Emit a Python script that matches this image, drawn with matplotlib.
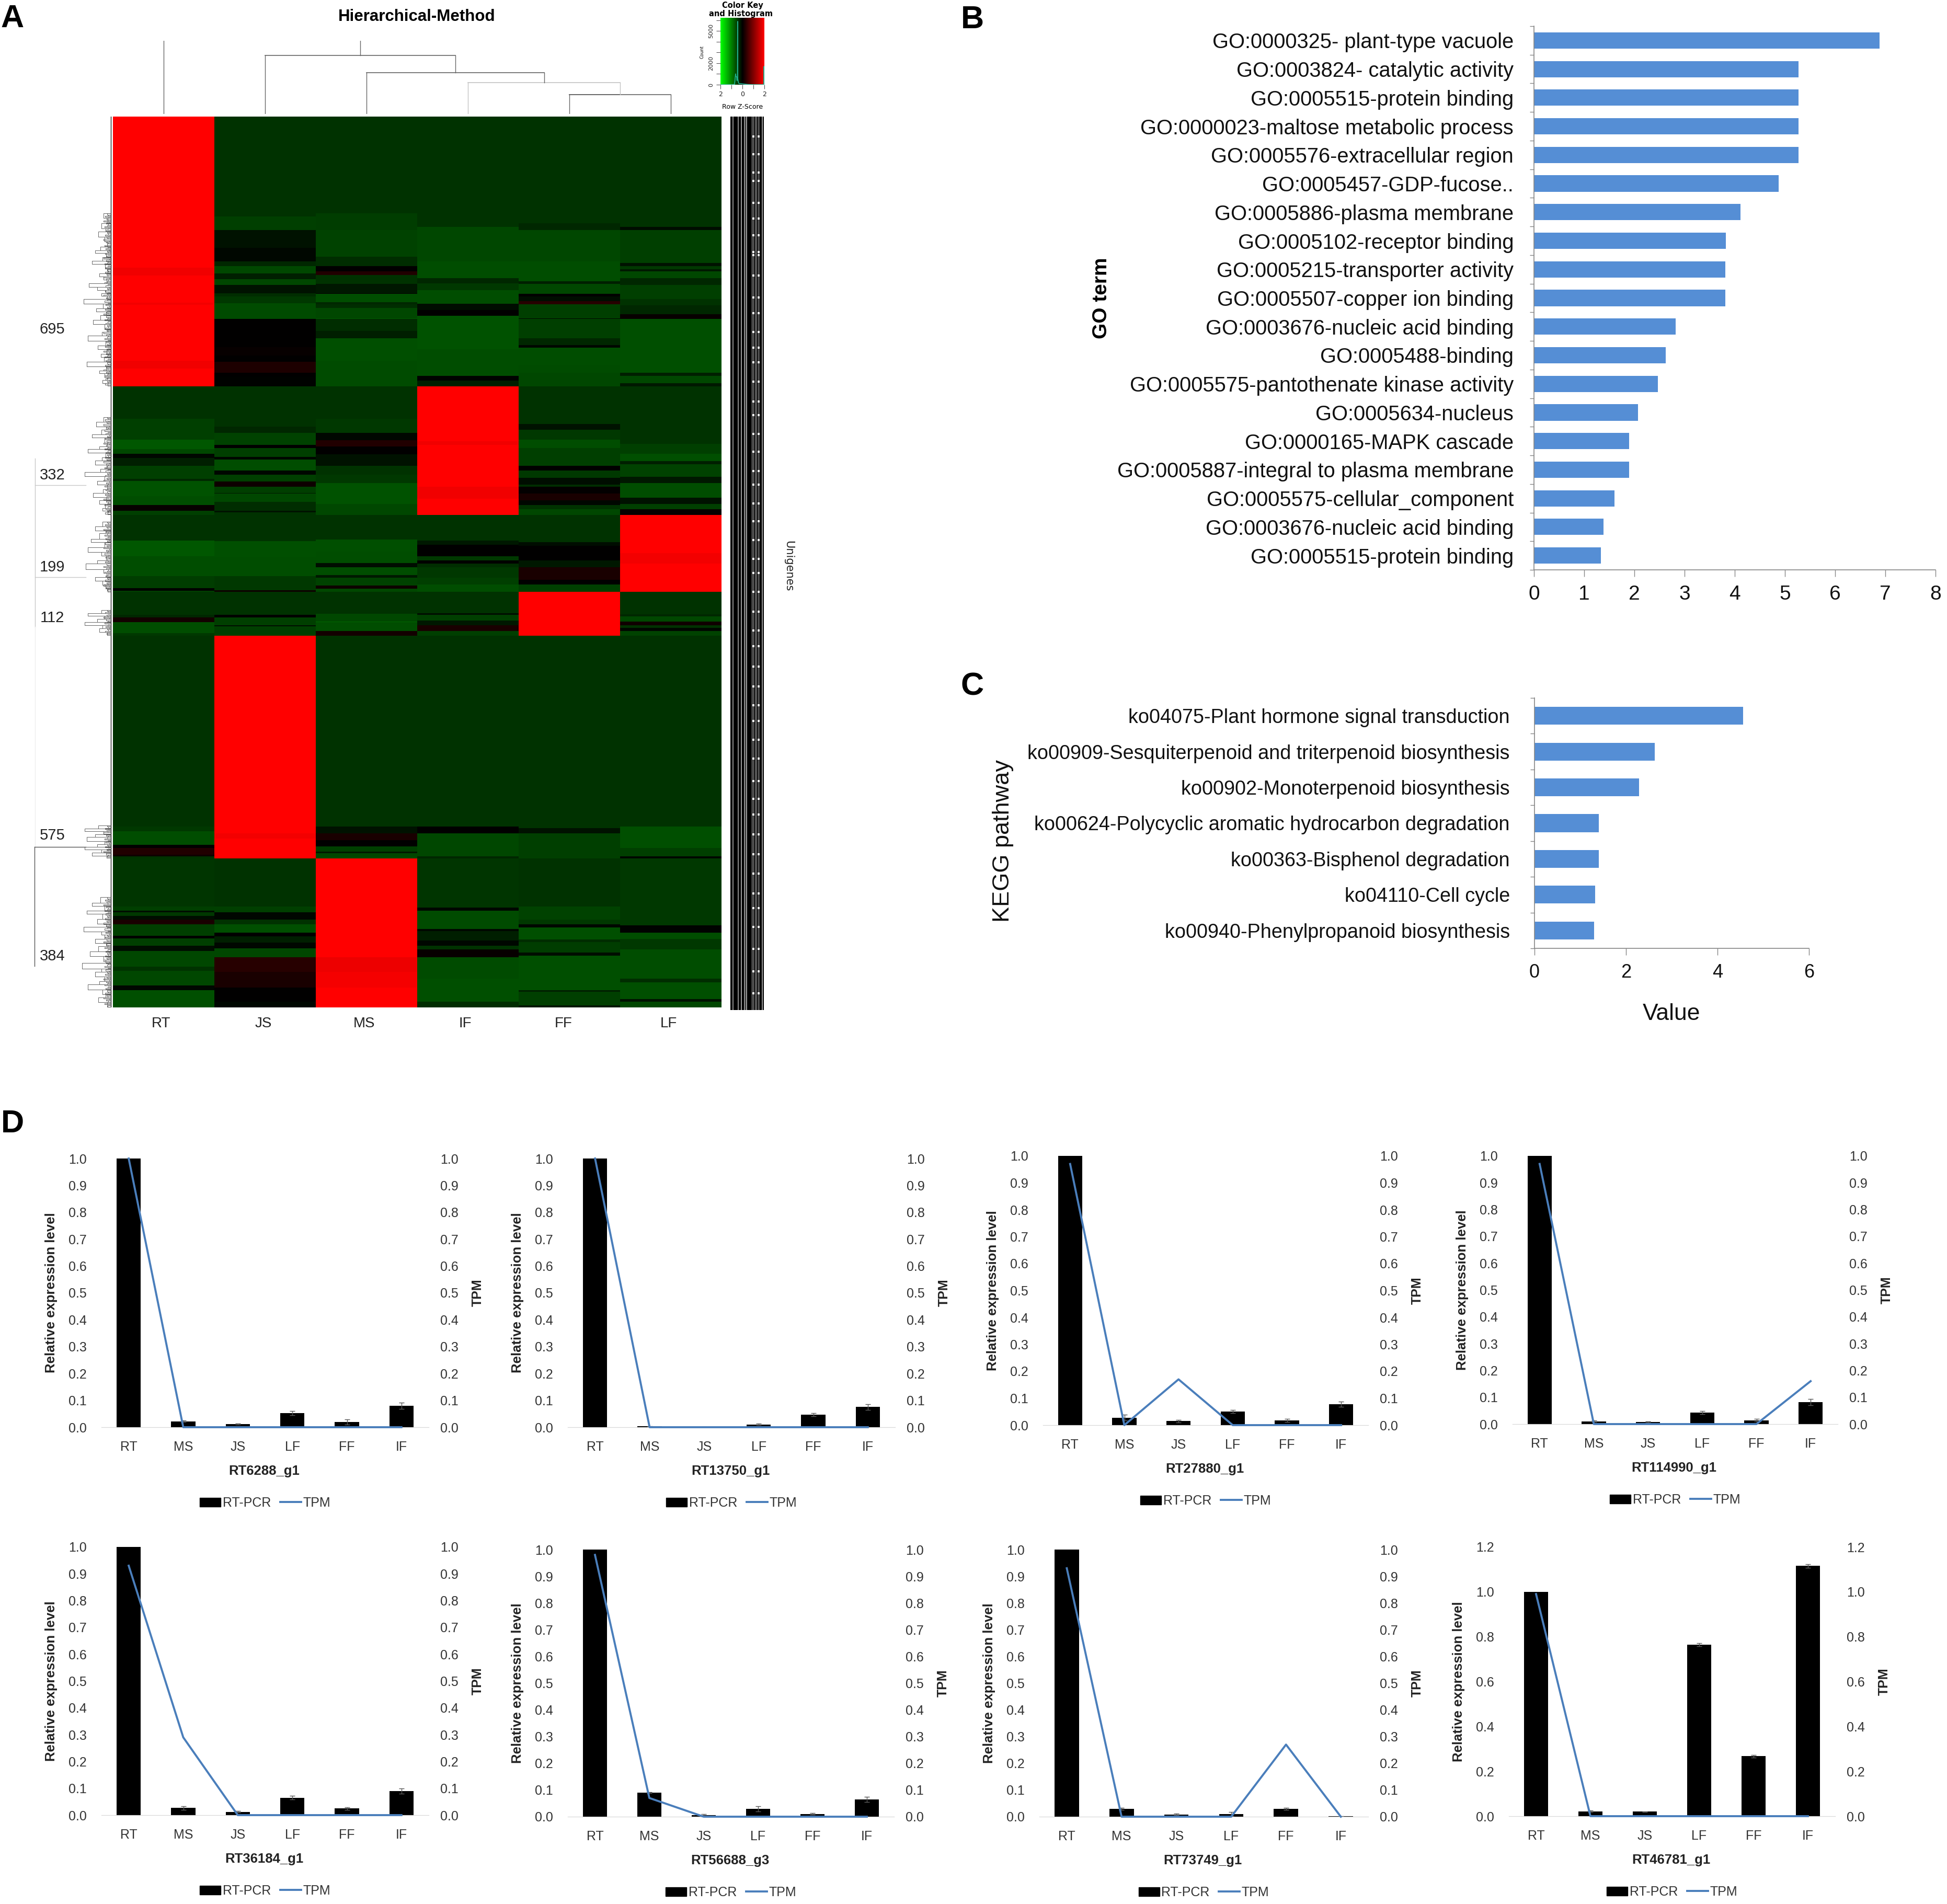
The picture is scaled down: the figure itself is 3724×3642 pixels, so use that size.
import numpy as np
import matplotlib
matplotlib.use('Agg')
import matplotlib.pyplot as plt
from matplotlib.colors import LinearSegmentedColormap
from matplotlib.lines import Line2D
from matplotlib.patches import Patch

plt.rcParams['font.family'] = ['Liberation Sans', 'DejaVu Sans']

W, H = 3724, 3642

# ---- panel A data: rows per cluster, bands are (last row, z-score)
heat_cols = ['RT', 'JS', 'MS', 'IF', 'FF', 'LF']
cluster_sizes = [695, 332, 199, 112, 575, 384]
cluster_labels = ['695', '332', '199', '112', '575', '384']

c1_bands = [
    [(390, 2), (410, 1.88), (480, 2), (485, 1.9), (630, 2), (650, 1.88), (695, 2)],
    [(258, -.4), (292, -.5), (339, -.15), (374, -.05), (385, -.3), (405, -.55), (419, -.25), (434, -.55), (455, -.15),
     (464, -.35), (481, -.45), (522, -.58), (594, 0), (616, .06), (632, 0), (661, .22), (670, 0), (695, -.03)],
    [(249, -.4), (292, -.47), (361, -.52), (385, -.35), (399, 0), (409, .25), (432, -.4), (455, -.18), (457, 0),
     (479, -.6), (484, -.3), (493, -.35), (520, -.55), (522, -.7), (553, -.35), (571, -.25), (630, -.62), (695, -.58)],
    [(284, -.4), (374, -.55), (416, -.6), (430, -.3), (448, -.45), (482, -.6), (499, -.1), (513, 0), (600, -.65),
     (668, -.6), (681, -.03), (695, -.25)],
    [(275, -.4), (292, -.3), (374, -.55), (425, -.6), (432, -.25), (457, -.55), (464, 0), (476, -.1), (484, .3),
     (520, -.5), (522, -.05), (571, -.5), (589, -.3), (596, -.05), (640, -.6), (660, -.58), (695, -.55)],
    [(284, -.4), (292, -.1), (378, -.5), (385, -.15), (394, -.45), (399, -.2), (416, -.55), (434, -.3), (470, -.5),
     (486, -.4), (509, -.3), (522, .05), (661, -.62), (668, -.25), (688, -.55), (695, -.2)],
]
c2_bands = [
    [(84, -.4), (138, -.5), (162, -.68), (174, -.55), (185, -.05), (205, -.25), (239, -.5), (245, -.3), (284, -.65),
     (306, -.6), (321, .05), (332, -.5)],
    [(104, -.4), (120, -.3), (152, -.52), (159, 0), (183, -.5), (189, -.05), (218, -.6), (228, -.05), (246, -.5),
     (260, .1), (275, -.5), (277, -.2), (299, -.55), (322, -.35), (326, -.15), (332, -.4)],
    [(84, -.4), (120, -.45), (140, -.05), (155, .25), (176, 0), (205, -.15), (228, -.4), (250, -.45), (304, -.65),
     (332, -.55)],
    [(142, 2), (151, 1.88), (259, 2), (290, 1.88), (332, 2)],
    [(97, -.4), (113, -.15), (138, -.45), (160, -.6), (205, -.5), (218, 0), (236, -.45), (254, -.1), (259, -.35),
     (277, .02), (295, .2), (306, -.05), (317, -.4), (332, -.55)],
    [(149, -.4), (174, -.5), (194, -.62), (201, -.25), (234, -.52), (250, -.2), (288, -.6), (304, -.15), (317, -.5),
     (332, .05)],
]
c3_bands = [
    [(66, -.4), (106, -.68), (158, -.6), (189, -.48), (195, 0), (199, -.5)],
    [(68, -.4), (108, -.62), (158, -.6), (194, -.45), (199, .1)],
    [(63, -.4), (95, -.62), (124, -.6), (135, -.1), (155, -.6), (162, -.2), (182, -.52), (190, .1), (199, -.55)],
    [(66, -.4), (77, -.2), (106, 0), (117, -.45), (125, 0), (135, -.35), (162, -.45), (180, -.5), (199, -.6)],
    [(70, -.4), (80, -.1), (117, 0), (135, -.2), (167, .2), (180, 0), (199, -.5)],
    [(99, 2), (126, 1.9), (199, 2)],
]
c4_bands = [
    [(58, -.4), (66, -.3), (77, .15), (106, -.6), (112, -.45)],
    [(58, -.4), (66, 0), (85, -.5), (88, -.1), (110, -.5), (112, -.5)],
    [(56, -.4), (76, -.55), (78, -.8), (101, -.6), (112, .15)],
    [(54, -.4), (58, -.1), (74, -.5), (86, -.2), (101, .2), (112, -.5)],
    [(112, 2)],
    [(57, -.4), (63, -.3), (76, -.55), (86, .12), (93, -.4), (100, -.05), (112, -.52)],
]
c5_bands = [
    [(493, -.4), (505, -.45), (540, -.6), (548, 0), (565, .25), (570, .1), (575, -.4)],
    [(510, 2), (523, 1.9), (575, 2)],
    [(493, -.4), (510, -.15), (527, .2), (544, 0), (557, -.5), (561, -.2), (575, -.55)],
    [(493, -.4), (510, 0), (570, -.55), (575, -.3)],
    [(497, -.4), (510, -.15), (575, -.5)],
    [(493, -.4), (548, -.62), (570, -.5), (575, -.05)],
]
c6_bands = [
    [(124, -.42), (135, -.5), (139, -.1), (148, -.45), (158, -.1), (170, .2), (199, -.5), (206, 0), (225, -.5),
     (238, -.1), (279, -.55), (290, -.4), (328, -.55), (339, -.05), (384, -.62)],
    [(124, -.4), (139, -.5), (158, -.05), (169, -.4), (191, -.62), (201, 0), (217, -.25), (232, -.05), (254, -.55),
     (292, .3), (333, .2), (369, 0), (384, -.05)],
    [(254, 2), (292, 1.85), (333, 1.92), (384, 2)],
    [(126, -.42), (135, -.05), (182, -.58), (187, -.05), (211, -.25), (225, -.05), (234, -.4), (254, .05), (310, -.58),
     (369, -.62), (384, -.35)],
    [(124, -.4), (157, -.52), (169, -.45), (178, -.05), (209, -.62), (216, -.35), (243, -.48), (250, -.1), (339, -.62),
     (344, -.25), (378, -.5), (384, -.2)],
    [(173, -.45), (191, -.03), (207, -.6), (234, -.45), (310, -.6), (319, -.35), (362, -.62), (369, -.15), (384, -.55)],
]
all_bands = [c1_bands, c2_bands, c3_bands, c4_bands, c5_bands, c6_bands]

# column dendrogram: merge heights above the heatmap
col_merge_heights = [37, 60, 79, 112]
col_tree_top = 140

# row dendrogram (stair outline per cluster): row and depth from the heatmap edge
den_rows = [
    [250, 262, 275, 288, 296, 310, 322, 335, 345, 352, 362, 372, 380, 392, 405, 412, 420, 430, 440, 448, 455, 462, 470,
     482, 495, 503, 512, 525, 535, 548, 556, 565, 578, 590, 600, 612, 620, 632, 645, 655, 662, 672, 680, 688, 694],
    [80, 92, 104, 112, 125, 133, 146, 155, 163, 172, 184, 192, 203, 214, 222, 233, 245, 254, 266, 275, 286, 295, 304,
     314, 322, 331],
    [18, 30, 40, 48, 62, 70, 84, 96, 105, 118, 126, 140, 150, 161, 170, 181, 190, 198],
    [46, 54, 62, 70, 78, 86, 94, 103, 111],
    [490, 498, 505, 513, 520, 530, 538, 545, 552, 560, 568, 574],
    [100, 114, 122, 135, 143, 156, 168, 176, 188, 196, 208, 218, 226, 240, 252, 262, 270, 284, 292, 305, 316, 325, 338,
     350, 358, 370, 383],
]
den_depth = [
    [8, 14, 6, 18, 10, 24, 12, 7, 20, 30, 9, 16, 36, 11, 6, 22, 14, 8, 42, 26, 10, 18, 7, 52, 15, 28, 9, 20, 34, 12, 6,
     17, 44, 10, 25, 8, 19, 13, 46, 9, 22, 12, 7, 16, 6],
    [6, 14, 28, 9, 18, 36, 12, 7, 22, 44, 10, 17, 30, 8, 20, 50, 12, 26, 7, 15, 34, 9, 22, 11, 16, 6],
    [8, 16, 30, 10, 22, 38, 12, 44, 18, 9, 26, 48, 14, 8, 30, 16, 10, 6],
    [8, 18, 44, 12, 26, 50, 16, 22, 7],
    [10, 24, 50, 14, 30, 46, 12, 26, 50, 18, 36, 8],
    [8, 20, 36, 12, 46, 16, 26, 9, 52, 18, 12, 30, 8, 24, 40, 14, 10, 55, 18, 30, 12, 22, 44, 16, 10, 24, 7],
]
# leaves: one short line per few genes, these depths repeat down the cluster
leaf_depth = [3, 7, 5, 11, 4, 8, 6, 14, 3, 9, 5, 7, 12, 4, 6, 10]
# long links left of the row dendrogram: depth, first row, last row, colour
outer_links = [(150, 1883, 2191, '#555555'), (149, 882, 1315, '#c8c8c8'), (149, 1315, 1883, '#eeeeee')]
outer_branches = [(1883, 150, 52, '#555555'), (951, 149, 52, '#c8c8c8'), (1187, 149, 52, '#c8c8c8')]

# overprinted gene labels at the right of the heatmap, ink per 2 px strip
label_ink = [1, 1, .45, 1, 1, 1, 1, .45, 1, 1, .4, 1, 1, .45, .8, .4, 1, 1, 1, 1, .75, .7, .7, 1, .4, 1, .7, .7, 1, 1, .4, 1]
# rows (of 850) where the grey strips show a white gap
ink_gap_rows = [18, 35, 52, 60, 81, 96, 112, 128, 131, 150, 171, 186, 204, 219, 233, 251, 270, 283, 301, 318, 336, 349,
                367, 384, 402, 420, 433, 451, 470, 488, 503, 522, 541, 559, 574, 592, 610, 631, 648, 663, 682, 701,
                719, 738, 752, 770, 791, 812, 833]
ink_gap_cols = [21, 22, 26, 27]

# colour key histogram
hist_z = [-2, -.95, -.72, -.62, -.62, -.52, -.5, -.45, -.43, -.43, -.38, -.35, -.3, -.1, .5, 1.0, 1.93, 1.95, 1.95, 2]
hist_count = [0, 0, 30, 1000, 850, 700, 400, 400, 5900, 600, 300, 150, 100, 90, 20, 0, 0, 150, 1700, 0]

# ---- panel B
go_terms = ['GO:0000325- plant-type vacuole', 'GO:0003824- catalytic activity', 'GO:0005515-protein binding',
            'GO:0000023-maltose metabolic process', 'GO:0005576-extracellular region', 'GO:0005457-GDP-fucose..',
            'GO:0005886-plasma membrane', 'GO:0005102-receptor binding', 'GO:0005215-transporter activity',
            'GO:0005507-copper ion binding', 'GO:0003676-nucleic acid binding', 'GO:0005488-binding',
            'GO:0005575-pantothenate kinase activity', 'GO:0005634-nucleus', 'GO:0000165-MAPK cascade',
            'GO:0005887-integral to plasma membrane', 'GO:0005575-cellular_component',
            'GO:0003676-nucleic acid binding', 'GO:0005515-protein binding']
go_values = [6.89, 5.27, 5.27, 5.27, 5.27, 4.87, 4.11, 3.82, 3.81, 3.81, 2.82, 2.63, 2.47, 2.07, 1.9, 1.9, 1.6, 1.39, 1.33]

# ---- panel C
kegg_terms = ['ko04075-Plant hormone signal transduction', 'ko00909-Sesquiterpenoid and triterpenoid biosynthesis',
              'ko00902-Monoterpenoid biosynthesis', 'ko00624-Polycyclic aromatic hydrocarbon degradation',
              'ko00363-Bisphenol degradation', 'ko04110-Cell cycle', 'ko00940-Phenylpropanoid biosynthesis']
kegg_values = [4.56, 2.63, 2.28, 1.41, 1.41, 1.33, 1.3]

# ---- panel D
tissues = ['RT', 'MS', 'JS', 'LF', 'FF', 'IF']
gene_names = ['RT6288_g1', 'RT13750_g1', 'RT27880_g1', 'RT114990_g1', 'RT36184_g1', 'RT56688_g3', 'RT73749_g1', 'RT46781_g1']
pcr_values = [
    [1, .022, .012, .052, .02, .08],
    [1, .003, .001, .01, .047, .075],
    [1, .028, .015, .05, .018, .078],
    [1, .01, .008, .043, .014, .082],
    [1, .027, .012, .065, .025, .09],
    [1, .09, .005, .03, .01, .065],
    [1, .03, .008, .01, .03, .001],
    [1, .022, .02, .765, .267, 1.115],
]
pcr_errors = [
    [0, .003, .002, .008, .01, .012],
    [0, .001, .001, .003, .006, .01],
    [0, .01, .005, .006, .006, .01],
    [0, .003, .002, .005, .005, .012],
    [0, .007, .003, .007, .005, .01],
    [0, .002, .004, .01, .003, .01],
    [0, .004, .003, .008, .004, .001],
    [0, .004, .002, .007, .006, .008],
]
tpm_values = [
    [1.0, 0, 0, 0, 0, 0],
    [1.0, 0, 0, 0, 0, 0],
    [.97, 0, .17, 0, 0, 0],
    [.97, 0, 0, 0, 0, .16],
    [.93, .29, 0, 0, 0, 0],
    [.98, .07, 0, 0, 0, 0],
    [.93, 0, 0, 0, .27, 0],
    [.99, 0, 0, 0, 0, 0],
]
chart_boxes = [(194, 820, 2216, 2730), (1086, 1712, 2216, 2730), (1995, 2617, 2211, 2726), (2893, 3515, 2211, 2724),
               (194, 820, 2959, 3472), (1086, 1710, 2964, 3475), (1988, 2617, 2964, 3475), (2886, 3510, 2959, 3474)]

fig = plt.figure(figsize=(W / 100, H / 100), dpi=100)


def px_axes(x0, x1, y0, y1):
    # axes from picture pixels, y counted from the top
    return fig.add_axes([x0 / W, 1 - y1 / H, (x1 - x0) / W, (y1 - y0) / H])


def px_text(x, y, s, **kw):
    kw.setdefault('ha', 'center')
    kw.setdefault('va', 'center')
    return fig.text(x / W, 1 - y / H, s, **kw)


# panel letters
for letter, lx, ly in [('A', 24, 36), ('B', 1860, 38), ('C', 1860, 1314), ('D', 24, 2150)]:
    px_text(lx, ly, letter, fontsize=44, fontweight='bold')

# heatmap
green_black_red = LinearSegmentedColormap.from_list('gbr', ['#00ff00', '#000000', '#ff0000'])
blocks = []
for bands, n in zip(all_bands, cluster_sizes):
    block = np.zeros((n, 6))
    for j, col_bands in enumerate(bands):
        start = 0
        for end, z in col_bands:
            block[start:end, j] = z
            start = end
    blocks.append(block)
heat = np.vstack(blocks)
total_rows = heat.shape[0]

ax_heat = px_axes(216, 1380, 223, 1927)
ax_heat.imshow(heat, aspect='auto', cmap=green_black_red, vmin=-2, vmax=2, interpolation='nearest')
ax_heat.axis('off')

for name, cx in zip(heat_cols, [308, 504, 696, 890, 1078, 1279]):
    px_text(cx, 1958, name, fontsize=20, color='#222222')

px_text(797, 32, 'Hierarchical-Method', fontsize=22.5, fontweight='bold')

# column dendrogram
ax_top = px_axes(216, 1380, 78, 218)
ax_top.set_xlim(0, 6)
ax_top.set_ylim(0, col_tree_top)
ax_top.axis('off')
den_grey = '#666666'
ax_top.plot([.5, .5], [0, col_tree_top], color=den_grey, lw=1)
nx = 5.0
for k, left_leaf in enumerate([4.5, 3.5, 2.5, 1.5]):
    h = col_merge_heights[k]
    lower = col_merge_heights[k - 1] if k else 0
    c = '#c4c4c4' if k == 1 else den_grey
    ax_top.plot([left_leaf, left_leaf], [0, h], color=c, lw=1)
    ax_top.plot([left_leaf, nx], [h, h], color=c, lw=1.2)
    if k:
        ax_top.plot([nx, nx], [lower, h], color=c, lw=1)
    else:
        ax_top.plot([5.5, 5.5], [0, h], color=c, lw=1)
        nx = 5.5
        ax_top.plot([left_leaf, nx], [h, h], color=c, lw=1.2)
    nx = (left_leaf + nx) / 2
ax_top.plot([nx, nx], [col_merge_heights[-1], col_tree_top], color=den_grey, lw=1)

# row dendrogram
ax_den = px_axes(50, 216, 223, 1927)
ax_den.set_xlim(166, 0)
ax_den.set_ylim(total_rows, 0)
ax_den.axis('off')
ax_den.plot([4, 4], [0, total_rows], color='#222222', lw=1)
offset = 0
for rows, depth, n in zip(den_rows, den_depth, cluster_sizes):
    r = np.array(rows) + offset
    d = np.array(depth) + 4
    ax_den.hlines(r, 4, d, color='#666666', lw=.7)
    ax_den.step(d, r, where='post', color='#666666', lw=.7)
    # short leaves packed against the heatmap
    leaf_rows = np.arange(rows[0], rows[-1], 3) + offset
    leaf_d = np.resize(leaf_depth, len(leaf_rows)) + 4
    ax_den.hlines(leaf_rows, 4, leaf_d, color='#555555', lw=.7)
    ax_den.step(leaf_d, leaf_rows, where='post', color='#555555', lw=.6)
    offset += n
for depth, r0, r1, c in outer_links:
    ax_den.plot([depth, depth], [r0, r1], color=c, lw=1)
for row, d0, d1, c in outer_branches:
    ax_den.plot([d0, d1], [row, row], color=c, lw=1)

for label, ly in zip(cluster_labels, [630, 909, 1085, 1182, 1598, 1829]):
    px_text(100, ly, label, fontsize=21, color='#222222')

# gene label strip
ink = np.tile(label_ink, (850, 1))
for g in ink_gap_rows:
    ink[g:g + 2, ink_gap_cols] = 0
ax_ink = px_axes(1397, 1461, 223, 1932)
ax_ink.imshow(ink, aspect='auto', cmap='gray_r', vmin=0, vmax=1, interpolation='nearest')
ax_ink.axis('off')
px_text(1508, 1083, 'Unigenes', fontsize=15, rotation=270, color='#222222', family='DejaVu Sans')

# colour key
ax_key = px_axes(1378, 1462, 34, 162)
ax_key.imshow(np.linspace(-2, 2, 200).reshape(1, -1), aspect='auto', cmap=green_black_red, vmin=-2, vmax=2,
              extent=[-2, 2, 0, 6240])
ax_key.plot(hist_z, hist_count, color='#1fae8c', lw=1.3)
ax_key.set_xlim(-2, 2)
ax_key.set_ylim(0, 6240)
ax_key.set_xticks([-2, -1, 0, 1, 2], ['2', '', '0', '', '2'], fontsize=9, family='DejaVu Sans')
ax_key.set_yticks([0, 1000, 2000, 3000, 4000, 5000, 6000], ['0', '', '2000', '', '', '5000', ''],
                  fontsize=8, rotation=90, va='center', family='DejaVu Sans')
ax_key.tick_params(length=5.5, width=.7, color='#444444', labelcolor='#222222')
for s in ax_key.spines.values():
    s.set_visible(False)
px_text(1420, 11, 'Color Key', fontsize=10.5, fontweight='bold', family='DejaVu Sans')
px_text(1417, 27, 'and Histogram', fontsize=10.5, fontweight='bold', family='DejaVu Sans', zorder=-1)
px_text(1343, 100, 'Count', fontsize=6, rotation=90, family='DejaVu Sans')
px_text(1420, 204, 'Row Z-Score', fontsize=9, family='DejaVu Sans')


def hbar_panel(box, labels, values, xmax, xticks, bar_h, label_size, label_pad, tick_size):
    ax = px_axes(*box)
    y = np.arange(len(values))
    ax.barh(y, values, height=bar_h, color='#558ED5')
    ax.set_xlim(0, xmax)
    ax.set_ylim(len(values) - .5, -.5)
    ax.set_yticks(y, labels, fontsize=label_size, color='#111111')
    ax.set_yticks(np.arange(len(values) + 1) - .5, minor=True)
    ax.tick_params(axis='y', which='major', length=0, pad=label_pad)
    ax.tick_params(axis='y', which='minor', length=6, width=1, color='#868686')
    ax.set_xticks(xticks, [str(t) for t in xticks], fontsize=tick_size, color='#111111')
    ax.tick_params(axis='x', length=9, width=1, color='#868686', pad=12)
    ax.spines[['top', 'right']].set_visible(False)
    ax.spines[['left', 'bottom']].set_color('#868686')
    ax.spines[['left', 'bottom']].set_linewidth(1.2)
    return ax


hbar_panel((2934, 3702, 50, 1090), go_terms, go_values, 8, list(range(9)), .57, 28.7, 28, 28)
px_text(2107, 570, 'GO term', fontsize=28, fontweight='bold', rotation=90)

hbar_panel((2935, 3460, 1335, 1814), kegg_terms, kegg_values, 6, [0, 2, 4, 6], .5, 27.2, 34, 26)
px_text(1919, 1608, 'KEGG pathway', fontsize=32.5, rotation=90, color='#111111')
px_text(3197, 1940, 'Value', fontsize=32, color='#111111')

# small expression charts
tick_grey = '#333333'
for i, box in enumerate(chart_boxes):
    x0, x1, y0, y1 = box
    ax = px_axes(*box)
    ymax = 1.2 if i == 7 else 1.0
    yticks = np.round(np.arange(0, ymax + .001, .2 if i == 7 else .1), 1)
    x = np.arange(6)
    ax.bar(x, pcr_values[i], width=.445, color='black')
    ax.errorbar(x[1:], pcr_values[i][1:], yerr=pcr_errors[i][1:], fmt='none', ecolor='#595959',
                elinewidth=1, capsize=3.5, capthick=1)
    ax.set_xlim(-.5, 5.5)
    ax.set_ylim(0, ymax)
    ax.set_xticks(x, tissues, fontsize=18, color=tick_grey)
    ax.set_yticks(yticks, [f'{t:.1f}' for t in yticks], fontsize=18, color=tick_grey)
    ax.tick_params(axis='x', length=0, pad=19)
    ax.tick_params(axis='y', length=0, pad=20)
    ax.spines[['top', 'left', 'right']].set_visible(False)
    ax.spines['bottom'].set_color('#d9d9d9')

    ax2 = ax.twinx()
    ax2.plot(x, tpm_values[i], color='#4A7EBB', lw=2.8, clip_on=False, zorder=5)
    ax2.set_ylim(0, ymax)
    ax2.set_yticks(yticks, [f'{t:.1f}' for t in yticks], fontsize=18, color=tick_grey)
    ax2.tick_params(axis='y', length=0, pad=16)
    ax2.spines[['top', 'left', 'right']].set_visible(False)
    ax2.spines['bottom'].set_color('#d9d9d9')

    cx = (x0 + x1) / 2
    cy = (y0 + y1) / 2
    px_text(x0 - 96, cy, 'Relative expression level', fontsize=18.5, fontweight='bold', rotation=90, color='#222222')
    px_text(x1 + 94, cy, 'TPM', fontsize=18, fontweight='bold', rotation=90, color='#222222')
    px_text(cx - 2, y1 + 84, gene_names[i], fontsize=18.5, fontweight='bold', color='#222222')
    fig.legend(handles=[Patch(color='black', label='RT-PCR'), Line2D([], [], color='#4A7EBB', lw=2.8, label='TPM')],
               loc='center', bbox_to_anchor=(cx / W, 1 - (y1 + 145) / H), ncol=2, frameon=False, fontsize=18,
               handlelength=1.6, handletextpad=.15, columnspacing=.7, labelcolor=tick_grey, borderpad=0)

fig.savefig('out.png', dpi=100, facecolor='white')
